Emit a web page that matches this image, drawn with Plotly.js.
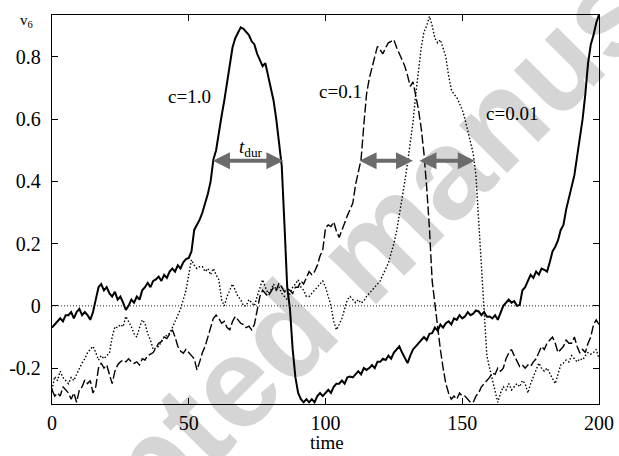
<!DOCTYPE html>
<html>
<head>
<meta charset="utf-8">
<script src="https://cdn.plot.ly/plotly-3.0.1.min.js"></script>
<style>html,body{margin:0;padding:0;background:#fff;}#chart{width:619px;height:456px;}</style>
</head>
<body>
<div id="chart"></div>
<script>
// v6 values sampled at time = 0,1,...,200
const solidC1 = [
-0.07,-0.06,-0.05,-0.04,-0.05,-0.03,-0.03,-0.02,-0.04,-0.02,
-0.01,-0.03,-0.02,-0.03,-0.045,-0.02,0.02,0.06,0.07,0.05,
0.06,0.04,0.03,0.045,0.02,0.03,0.01,-0.013,0.0,0.02,
0.01,0.03,0.02,0.05,0.06,0.074,0.06,0.08,0.085,0.094,
0.08,0.1,0.09,0.11,0.12,0.11,0.13,0.12,0.14,0.15,
0.154,0.175,0.244,0.26,0.277,0.3,0.33,0.36,0.4,0.47,
0.5,0.56,0.61,0.66,0.72,0.78,0.83,0.86,0.88,0.895,
0.89,0.88,0.87,0.85,0.84,0.81,0.79,0.77,0.78,0.74,
0.71,0.66,0.6,0.52,0.45,0.26,0.06,-0.01,-0.14,-0.23,
-0.28,-0.3,-0.31,-0.3,-0.31,-0.3,-0.31,-0.29,-0.28,-0.29,
-0.28,-0.27,-0.28,-0.26,-0.25,-0.25,-0.24,-0.25,-0.23,-0.227,
-0.23,-0.22,-0.21,-0.22,-0.2,-0.206,-0.2,-0.19,-0.2,-0.18,
-0.18,-0.17,-0.174,-0.16,-0.17,-0.15,-0.14,-0.13,-0.15,-0.17,
-0.184,-0.16,-0.14,-0.13,-0.12,-0.11,-0.1,-0.11,-0.09,-0.088,
-0.07,-0.08,-0.06,-0.07,-0.056,-0.05,-0.06,-0.04,-0.045,-0.03,
-0.04,-0.034,-0.02,-0.03,-0.025,-0.015,-0.018,-0.03,-0.02,-0.035,
-0.034,-0.04,-0.03,-0.045,-0.02,0.0,0.01,0.02,0.01,0.015,
0.0,0.003,0.05,0.06,0.08,0.1,0.09,0.11,0.1,0.12,
0.116,0.11,0.14,0.175,0.19,0.21,0.244,0.26,0.31,0.35,
0.38,0.42,0.48,0.534,0.6,0.68,0.78,0.84,0.87,0.91,
0.935];

const dashedC01 = [
-0.27,-0.29,-0.28,-0.29,-0.26,-0.27,-0.28,-0.3,-0.28,-0.31,
-0.27,-0.26,-0.238,-0.25,-0.24,-0.28,-0.26,-0.2,-0.184,-0.2,
-0.19,-0.22,-0.25,-0.21,-0.19,-0.18,-0.174,-0.18,-0.17,-0.18,
-0.185,-0.18,-0.19,-0.17,-0.174,-0.16,-0.155,-0.15,-0.135,-0.12,
-0.115,-0.1,-0.105,-0.09,-0.077,-0.1,-0.13,-0.145,-0.152,-0.14,
-0.152,-0.16,-0.17,-0.206,-0.18,-0.15,-0.13,-0.1,-0.07,-0.04,
-0.03,-0.04,-0.056,-0.05,-0.07,-0.077,-0.05,-0.034,-0.045,-0.056,
-0.06,-0.07,-0.065,-0.077,-0.06,-0.02,0.03,0.05,0.04,0.03,
0.045,0.06,0.05,0.073,0.06,0.045,0.055,0.05,0.04,0.06,
0.06,0.08,0.07,0.09,0.11,0.1,0.11,0.13,0.16,0.18,
0.25,0.26,0.255,0.27,0.24,0.22,0.24,0.266,0.29,0.31,
0.33,0.39,0.43,0.47,0.58,0.68,0.73,0.77,0.8,0.834,
0.82,0.81,0.83,0.845,0.85,0.855,0.83,0.81,0.79,0.77,
0.74,0.705,0.72,0.68,0.63,0.57,0.49,0.38,0.25,0.08,
0.0,-0.07,-0.14,-0.2,-0.25,-0.28,-0.3,-0.29,-0.3,-0.28,
-0.29,-0.29,-0.3,-0.31,-0.31,-0.29,-0.28,-0.26,-0.25,-0.24,
-0.23,-0.216,-0.22,-0.2,-0.21,-0.2,-0.17,-0.152,-0.14,-0.16,
-0.18,-0.195,-0.19,-0.2,-0.19,-0.195,-0.18,-0.17,-0.15,-0.13,
-0.14,-0.12,-0.11,-0.1,-0.12,-0.15,-0.14,-0.13,-0.11,-0.12,
-0.12,-0.1,-0.13,-0.152,-0.14,-0.15,-0.12,-0.1,-0.06,-0.045,
-0.06];

const dottedC001 = [
-0.27,-0.227,-0.24,-0.21,-0.23,-0.24,-0.25,-0.23,-0.24,-0.22,
-0.2,-0.184,-0.17,-0.15,-0.14,-0.13,-0.15,-0.174,-0.16,-0.17,
-0.16,-0.152,-0.1,-0.067,-0.07,-0.06,-0.067,-0.034,-0.05,-0.067,
-0.09,-0.1,-0.07,-0.045,-0.056,-0.09,-0.11,-0.14,-0.135,-0.13,
-0.115,-0.1,-0.095,-0.088,-0.07,-0.05,-0.034,-0.01,0.02,0.05,
0.1,0.148,0.13,0.12,0.126,0.126,0.11,0.12,0.1,0.12,
0.1,0.084,0.02,0.0,0.03,0.05,0.07,0.05,0.03,0.02,
0.0,0.0,0.02,0.01,0.0,0.03,0.06,0.084,0.06,0.04,
0.05,0.07,0.05,0.06,0.04,0.03,0.02,0.04,0.06,0.07,
0.084,0.06,0.05,0.03,0.03,0.04,0.05,0.06,0.07,0.08,
0.06,0.03,0.0,-0.05,-0.077,-0.06,-0.04,-0.01,0.02,0.03,
0.02,0.01,0.02,0.009,0.015,0.03,0.04,0.05,0.06,0.07,
0.08,0.1,0.12,0.137,0.17,0.2,0.24,0.29,0.34,0.4,
0.46,0.52,0.59,0.68,0.75,0.83,0.88,0.9,0.93,0.9,
0.86,0.845,0.855,0.83,0.8,0.74,0.695,0.68,0.67,0.65,
0.63,0.6,0.56,0.52,0.49,0.42,0.27,0.1,-0.05,-0.16,
-0.2,-0.24,-0.28,-0.31,-0.28,-0.26,-0.27,-0.25,-0.27,-0.26,
-0.25,-0.26,-0.24,-0.25,-0.28,-0.25,-0.23,-0.21,-0.184,-0.2,
-0.21,-0.2,-0.216,-0.23,-0.25,-0.22,-0.19,-0.184,-0.174,-0.18,
-0.16,-0.17,-0.18,-0.17,-0.174,-0.16,-0.15,-0.155,-0.15,-0.14,
-0.17];

const time = solidC1.map((_, i) => i);

const xTickVals = [0, 50, 100, 150, 200];
const xTickText = ['0', '50', '100', '150', '200'];
const yTickVals = [-0.2, 0, 0.2, 0.4, 0.6, 0.8];
const yTickText = ['-0.2', '0', '0.2', '0.4', '0.6', '0.8'];

// duration arrows: [start time, end time] at level v6 = 0.466
const durStart = [58.3, 111.9, 133.8];
const durEnd = [84.6, 132.0, 154.6];
const durLevel = 0.466;

const curveLabels = ['c=1.0', 'c=0.1', 'c=0.01'];
const labelT = [50.3, 105.6, 168.3];
const labelV = [0.672, 0.688, 0.617];

const serif = "'Liberation Serif', 'Times New Roman', Times, serif";

const traces = [
  {x: time, y: solidC1, type: 'scatter', mode: 'lines', name: curveLabels[0],
   line: {color: '#000', width: 2}},
  {x: time, y: dashedC01, type: 'scatter', mode: 'lines', name: curveLabels[1],
   line: {color: '#000', width: 1.4, dash: '9px,3px'}},
  {x: time, y: dottedC001, type: 'scatter', mode: 'lines', name: curveLabels[2],
   line: {color: '#000', width: 1.4, dash: '1.5px,2px'}}
];

const annotations = [];
for (let i = 0; i < durStart.length; i++) {
  annotations.push({
    x: durEnd[i], y: durLevel, ax: durStart[i], ay: durLevel,
    xref: 'x', yref: 'y', axref: 'x', ayref: 'y',
    text: '', showarrow: true, arrowside: 'end+start',
    arrowhead: 2, arrowsize: 0.85, arrowwidth: 4, arrowcolor: '#6b6b6b',
    standoff: 0, startstandoff: 0
  });
}
for (let i = 0; i < curveLabels.length; i++) {
  annotations.push({
    x: labelT[i], y: labelV[i], xref: 'x', yref: 'y', text: curveLabels[i],
    showarrow: false, font: {family: serif, size: 19, color: '#000'},
    xanchor: 'center', yanchor: 'middle'
  });
}
annotations.push({
  x: 72.7, y: 0.508, xref: 'x', yref: 'y',
  text: '<i>t</i><sub>dur</sub>', showarrow: false,
  font: {family: serif, size: 19, color: '#000'}, xanchor: 'center', yanchor: 'middle'
});
annotations.push({
  x: -0.046, y: 0.985, xref: 'paper', yref: 'paper',
  text: 'v<sub>6</sub>', showarrow: false,
  font: {family: serif, size: 15, color: '#000'}, xanchor: 'center', yanchor: 'middle'
});
annotations.push({
  x: 0.503, y: -0.098, xref: 'paper', yref: 'paper',
  text: 'time', showarrow: false,
  font: {family: serif, size: 19, color: '#000'}, xanchor: 'center', yanchor: 'middle'
});

const layout = {
  width: 619, height: 456,
  margin: {l: 52, r: 20, t: 15, b: 52},
  paper_bgcolor: '#fff', plot_bgcolor: 'rgba(0,0,0,0)',
  showlegend: false,
  font: {family: serif, size: 20, color: '#000'},
  xaxis: {
    range: [0, 200], tickvals: xTickVals, ticktext: xTickText,
    ticks: 'inside', ticklen: 6, tickwidth: 1, tickcolor: '#000',
    showline: true, linecolor: '#000', linewidth: 1.2, mirror: 'ticks',
    showgrid: false, zeroline: false, ticklabelstandoff: 1,
    tickfont: {family: serif, size: 20, color: '#000'}
  },
  yaxis: {
    range: [-0.3154, 0.9346], tickvals: yTickVals, ticktext: yTickText,
    ticks: 'inside', ticklen: 6, tickwidth: 1, tickcolor: '#000',
    showline: true, linecolor: '#000', linewidth: 1.2, mirror: 'ticks',
    showgrid: false, zeroline: false, ticklabelstandoff: 6,
    tickfont: {family: serif, size: 20, color: '#000'}
  },
  shapes: [
    {type: 'line', xref: 'paper', yref: 'y', x0: 0, x1: 1, y0: 0, y1: 0,
     line: {color: '#222', width: 1, dash: '1px,2px'}},
    {type: 'line', xref: 'paper', yref: 'paper', layer: 'below',
     x0: 0.4585, y0: 0.2744, x1: 0.6585, y1: 0.5556,
     line: {color: 'rgba(0,0,0,0)', width: 0},
     label: {text: 'Accepted manuscript', textposition: 'middle', textangle: 'auto',
             xanchor: 'center', yanchor: 'middle', padding: 0,
             font: {family: "'Liberation Sans', Arial, sans-serif", size: 128,
                    color: '#d5d5d5', weight: 'bold'}}}
  ],
  annotations: annotations
};

Plotly.newPlot('chart', traces, layout, {displayModeBar: false, staticPlot: true});
</script>
</body>
</html>
